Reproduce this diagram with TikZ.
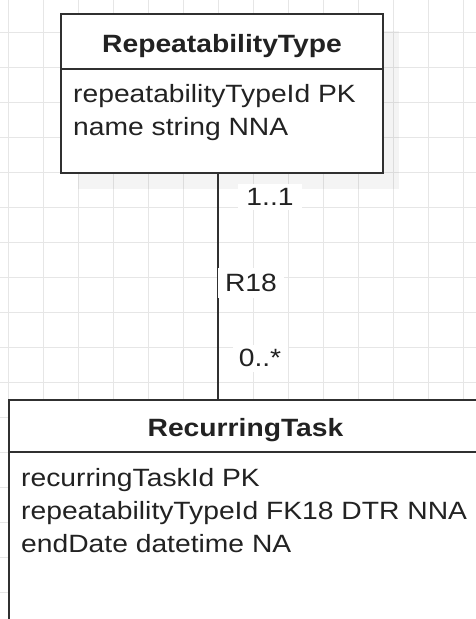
\documentclass[tikz,border=0pt]{standalone}
\usepackage{fontspec}
\setmainfont{Liberation Sans}[FakeStretch=1.13]
\definecolor{gridc}{HTML}{E6E6E6}
\definecolor{linec}{HTML}{303030}
\definecolor{txtc}{HTML}{222222}
\begin{document}
\begin{tikzpicture}[x=1pt,y=-1pt,
  entity/.style={draw=linec, line width=1.7pt, fill=white, inner sep=0pt},
  ttl/.style={font=\fontsize{25}{31}\selectfont\bfseries, text=txtc, inner sep=0pt, anchor=base},
  attr/.style={font=\fontsize{25}{31}\selectfont, text=txtc, inner sep=0pt, anchor=base west},
  lbl/.style={font=\fontsize{25}{31}\selectfont, text=txtc, fill=white, inner sep=0pt},
  conn/.style={draw=linec, line width=1.7pt},
  shade/.style={fill=black, fill opacity=0.045}]
\useasboundingbox (0,0) rectangle (476,619);
\clip (0,0) rectangle (476,619);
\fill[white] (0,0) rectangle (476,619);
\foreach \i in {0,...,13} \draw[gridc, line width=1pt] (8+35*\i,0) -- (8+35*\i,619);
\foreach \j in {0,...,16} \draw[gridc, line width=1pt] (0,32+35*\j) -- (476,32+35*\j);
% shadow of top entity
\fill[shade] (78,31) rectangle (399,189);
% entities
\node[entity, minimum width=322pt, minimum height=159pt] (rt) at (222,93.5) {};
\node[entity, minimum width=473pt, minimum height=280pt] (rc) at (245.5,540) {};
\coordinate (h1) at (0,69);
\coordinate (h2) at (0,452);
\coordinate (cx) at (218,0);
\draw[conn] (rt.west |- h1) -- (rt.east |- h1);
\draw[conn] (rc.west |- h2) -- (rc.east |- h2);
% titles and attributes
\node[ttl] (rtt) at (222,52) {RepeatabilityType};
\node[attr] (rta1) at (73,102) {repeatabilityTypeId PK};
\node[attr] (rta2) at (73,135) {name string NNA};
\node[ttl] (rct) at (245.5,436) {RecurringTask};
\node[attr] (rca1) at (21,486) {recurringTaskId PK};
\node[attr] (rca2) at (21,519) {repeatabilityTypeId FK18 DTR NNA};
\node[attr] (rca3) at (21,552) {endDate datetime NA};
% connector
\draw[conn] (rt.south -| cx) -- (rc.north -| cx);
\node[lbl, minimum width=64pt, minimum height=26pt] (m1) at (270,197) {1..1};
\node[lbl, minimum width=66pt, minimum height=30pt] (r18) at (251,283) {R18};
\node[lbl, minimum width=55pt, minimum height=27pt] (m2) at (260,358) {0..*};
\end{tikzpicture}
\end{document}
